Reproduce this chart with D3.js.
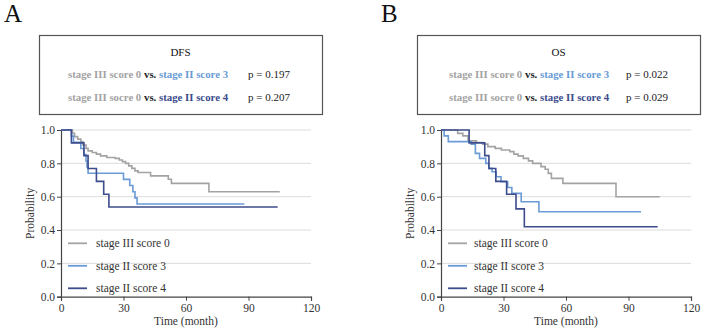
<!DOCTYPE html>
<html><head><meta charset="utf-8">
<script src="https://cdn.jsdelivr.net/npm/d3@7"></script>
<style>
html,body{margin:0;padding:0;background:#fff;}
svg{display:block;}
svg text{font-family:"Times New Roman","Liberation Serif",Times,serif;}
</style></head>
<body><svg id="c" width="706" height="331"></svg>
<script>
// ---- data ----
const seriesNames = ["stage III score 0", "stage II score 3", "stage II score 4"];
const seriesColors = ["#a3a3a3", "#6a9bd6", "#3c4c8c"];
const xTicks = [0, 30, 60, 90, 120];
const yTicks = [0.0, 0.2, 0.4, 0.6, 0.8, 1.0];

// DFS (panel A): [time, survival] steps
const dfsScore0 = [[0,1],[5.5,0.98],[6.5,0.96],[8,0.945],[9.5,0.93],[10.5,0.91],[12,0.89],[13,0.875],[15,0.865],[17,0.855],[19,0.845],[22,0.835],[26,0.83],[28,0.82],[29.5,0.81],[31,0.80],[32.5,0.785],[34,0.77],[35.5,0.755],[37,0.745],[43,0.725],[51.5,0.705],[53,0.68],[71,0.63],[105,0.63]];
const dfsScore3 = [[0,1],[5,0.963],[6,0.926],[9.5,0.889],[11,0.852],[12,0.815],[12.5,0.778],[13,0.741],[30,0.704],[33,0.667],[34.5,0.63],[35.5,0.593],[36.5,0.556],[88,0.556]];
const dfsScore4 = [[0,1],[5,0.923],[11,0.846],[13,0.769],[17,0.692],[20.5,0.615],[23,0.538],[104,0.538]];

// OS (panel B)
const osScore0 = [[0,1],[8,0.98],[10.5,0.965],[13,0.935],[17,0.925],[20,0.915],[22.5,0.90],[26,0.89],[29,0.88],[33,0.87],[35,0.855],[37,0.845],[39.5,0.83],[42,0.815],[44,0.80],[48,0.78],[50,0.765],[51.5,0.74],[53,0.71],[58.5,0.68],[84,0.60],[105,0.60]];
const osScore3 = [[0,1],[1.5,0.965],[3.5,0.93],[14.5,0.915],[16.5,0.86],[18.5,0.83],[21.5,0.80],[23,0.77],[24.5,0.75],[26.5,0.72],[28.8,0.69],[32,0.655],[34,0.62],[38.5,0.57],[47,0.51],[96,0.51]];
const osScore4 = [[0,1],[13.5,0.923],[21,0.846],[23,0.769],[26.3,0.692],[31.5,0.615],[36,0.527],[40,0.42],[104,0.42]];

const panels = [
  {letter:"A", title:"DFS", p:["p = 0.197","p = 0.207"], series:[dfsScore0, dfsScore3, dfsScore4], ox:0},
  {letter:"B", title:"OS",  p:["p = 0.022","p = 0.029"], series:[osScore0, osScore3, osScore4], ox:380}
];
const rowLeft = ["stage III score 0", "stage III socre 0"];
const rowRight = ["stage II score 3", "stage II score 4"];

// ---- drawing ----
const svg = d3.select("#c");
panels.forEach((pn, pi) => {
  const g = svg.append("g");
  const x0 = pn.ox;
  g.append("text").attr("x", pi===0 ? 4 : 381).attr("y", 22)
    .attr("font-size", 25).attr("fill", "#111").text(pn.letter);

  const bx = pi===0 ? 39 : 417, by = 35, bw = 283, bh = 79;
  g.append("rect").attr("x", bx+0.5).attr("y", by+0.5).attr("width", bw).attr("height", bh)
    .attr("fill", "none").attr("stroke", "#555").attr("stroke-width", 1.2);
  g.append("text").attr("x", bx + bw/2).attr("y", by + 21).attr("text-anchor", "middle")
    .attr("font-size", 11).attr("fill", "#111").text(pn.title);
  [0,1].forEach(r => {
    const t = g.append("text").attr("x", bx + (pi===0 ? 29 : 32)).attr("y", by + 43 + r*23)
      .attr("font-size", 10.8).attr("font-weight", "bold");
    t.append("tspan").attr("fill", seriesColors[0]).text(rowLeft[r]);
    t.append("tspan").attr("fill", "#222").text(" vs. ");
    t.append("tspan").attr("fill", seriesColors[r+1]).text(rowRight[r]);
    g.append("text").attr("x", bx + 209).attr("y", by + 43 + r*23)
      .attr("font-size", 11).attr("fill", "#222").text(pn.p[r]);
  });

  const left = 61 + x0, right = 311 + x0, top = 130, bottom = 296.7;
  const x = d3.scaleLinear().domain([0,120]).range([left, right]);
  const y = d3.scaleLinear().domain([0,1]).range([bottom, top]);

  g.append("g").selectAll("line").data(yTicks.filter(d => d > 0)).join("line")
    .attr("x1", left).attr("x2", right).attr("y1", d => y(d)).attr("y2", d => y(d))
    .attr("stroke", "#dcdcdc").attr("stroke-width", 1);

  const yAxis = g.append("g").attr("transform", `translate(${left},0)`)
    .call(d3.axisLeft(y).tickValues(yTicks).tickFormat(d3.format(".1f")).tickSize(4).tickPadding(2));
  const xAxis = g.append("g").attr("transform", `translate(0,${bottom})`)
    .call(d3.axisBottom(x).tickValues(xTicks).tickSize(4).tickPadding(3));
  [yAxis, xAxis].forEach(a => {
    a.attr("font-family", null);
    a.select(".domain").attr("stroke", "#444").attr("stroke-width", 1.2);
    a.selectAll(".tick line").attr("stroke", "#444");
    a.selectAll("text").attr("font-size", 11.5).attr("fill", "#333");
  });
  g.append("text").attr("transform", `translate(${x0+34},${(top+bottom)/2}) rotate(-90)`)
    .attr("text-anchor", "middle").attr("font-size", 11.5).attr("fill", "#333").text("Probability");
  g.append("text").attr("x", (left+right)/2).attr("y", 325).attr("text-anchor", "middle")
    .attr("font-size", 11.5).attr("fill", "#333").text("Time (month)");

  const line = d3.line().x(d => x(d[0])).y(d => y(d[1])).curve(d3.curveStepAfter);
  pn.series.forEach((s, i) => {
    g.append("path").datum(s).attr("d", line).attr("fill", "none")
      .attr("stroke", seriesColors[i]).attr("stroke-width", 1.6);
  });

  seriesNames.forEach((nm, i) => {
    const ly = 243.3 + i*22.5;
    const lx = pi===0 ? 68 : 448;
    g.append("line").attr("x1", lx).attr("x2", lx+19).attr("y1", ly).attr("y2", ly)
      .attr("stroke", seriesColors[i]).attr("stroke-width", 1.8);
    g.append("text").attr("x", lx + (pi===0 ? 28 : 26)).attr("y", ly + 4)
      .attr("font-size", 11.5).attr("fill", "#333").text(nm);
  });
});
</script></body></html>
